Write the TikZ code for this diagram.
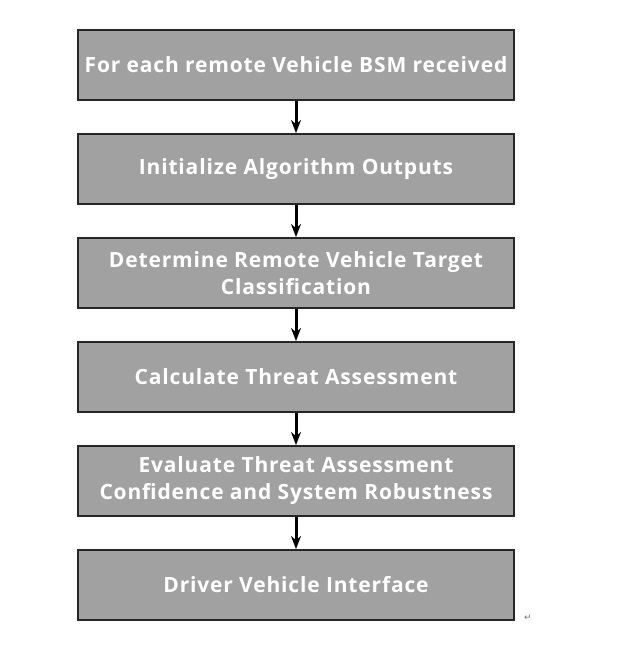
\documentclass[tikz,border=0pt]{standalone}
\usepackage{fontspec}
\setsansfont[LetterSpace=4]{Open Sans}
\newfontfamily\symfont{DejaVu Sans}
\usepackage{tikz}
\usetikzlibrary{arrows.meta,positioning}

\begin{document}
\begin{tikzpicture}[
  x=1pt, y=1pt,
  node distance=32pt,
  box/.style={rectangle, draw=black!85, line width=2pt, fill=black!37, text=white,
    minimum width=436pt, minimum height=70pt, align=center, inner sep=0pt,
    font=\sffamily\bfseries\fontsize{21}{27}\selectfont},
  arr/.style={-{Stealth[length=13pt,width=10pt]}, line width=3pt}
]
\useasboundingbox (0,0) rectangle (635,-656);
\node[box] (recv) at (296,-65) {For each remote Vehicle BSM received};
\node[box, below=of recv] (init) {Initialize Algorithm Outputs};
\node[box, below=of init] (classify) {Determine Remote Vehicle Target\\Classification};
\node[box, below=of classify] (threat) {Calculate Threat Assessment};
\node[box, below=of threat] (confid) {Evaluate Threat Assessment\\Confidence and System Robustness};
\node[box, below=of confid] (dvi) {Driver Vehicle Interface};
\node[text=black!55, font=\symfont\fontsize{9}{9}\selectfont, anchor=south west, inner sep=0pt] (ret) at (dvi.south east) [xshift=9pt] {↵};

\draw[arr] (recv) -- (init);
\draw[arr] (init) -- (classify);
\draw[arr] (classify) -- (threat);
\draw[arr] (threat) -- (confid);
\draw[arr] (confid) -- (dvi);
\end{tikzpicture}
\end{document}
